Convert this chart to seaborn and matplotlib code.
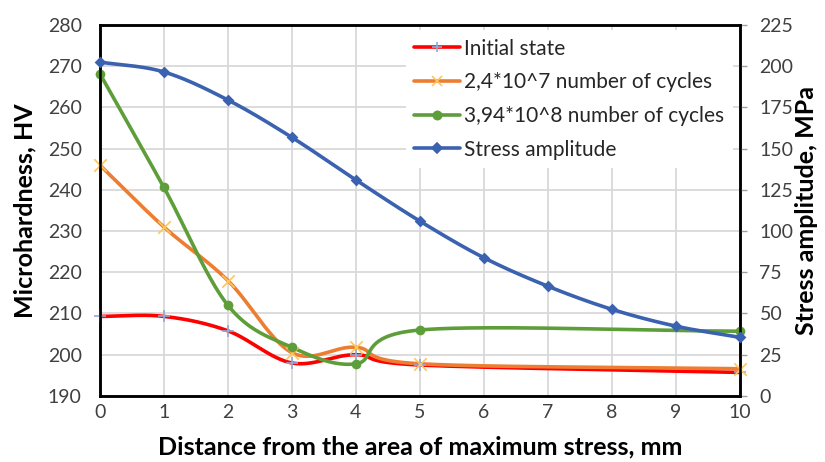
import numpy as np
import pandas as pd
import matplotlib
matplotlib.use("Agg")
import matplotlib.pyplot as plt
import seaborn as sns

# hardness series measured at these distances
distance_hv = [0, 1, 2, 3, 4, 5, 10]
initial_state = [209.3, 209.3, 205.8, 198.0, 200.0, 197.5, 195.7]
cycles_24e7 = [246.0, 231.0, 218.0, 200.5, 201.8, 197.8, 196.6]
cycles_394e8 = [268.2, 240.6, 212.0, 201.8, 197.8, 206.0, 205.7]

# stress amplitude measured at every mm
distance_sa = [0, 1, 2, 3, 4, 5, 6, 7, 8, 9, 10]
stress_amplitude = [202.5, 196.5, 179.5, 156.8, 131.0, 106.0, 83.8, 66.5, 52.5, 42.3, 35.5]

x_ticks = [0, 1, 2, 3, 4, 5, 6, 7, 8, 9, 10]
labels = ["Initial state", "2,4*10^7 number of cycles",
          "3,94*10^8 number of cycles", "Stress amplitude"]

sns.set_theme(style="white")
plt.rcParams['font.family'] = ['Lato', 'DejaVu Sans']


def smooth(x, y, n=40):
    # Excel-like smoothed line (Catmull-Rom via Bezier control points)
    x = np.asarray(x, float); y = np.asarray(y, float)
    P = np.column_stack([x, y])
    P = np.vstack([P[0] - (P[1] - P[0]), P, P[-1] + (P[-1] - P[-2])])
    out = []
    for i in range(1, len(P) - 2):
        p0, p1, p2, p3 = P[i - 1], P[i], P[i + 1], P[i + 2]
        t = np.linspace(0, 1, n, endpoint=False)[:, None]
        c1 = p1 + (p2 - p0) / 6
        c2 = p2 - (p3 - p1) / 6
        seg = (1 - t) ** 3 * p1 + 3 * (1 - t) ** 2 * t * c1 + 3 * (1 - t) * t ** 2 * c2 + t ** 3 * p2
        out.append(seg)
    out.append(P[-2][None, :])
    s = np.vstack(out)
    return s[:, 0], s[:, 1]


fig = plt.figure(figsize=(8.25, 4.62), dpi=100)
ax = fig.add_axes([0.121, 0.143, 0.776, 0.803])
ax2 = ax.twinx()

styles = [
    (distance_hv, initial_state, "#FF0000", "+", "#8FAADC", 9, ax),
    (distance_hv, cycles_24e7, "#ED7D31", "x", "#FFC55A", 9, ax),
    (distance_hv, cycles_394e8, "#5E9E3A", "o", "#5E9E3A", 7, ax),
    (distance_sa, stress_amplitude, "#3A62B0", "D", "#3A62B0", 6, ax2),
]

handles = []
for (xv, vals, lc, mk, mc, ms, a), lab in zip(styles, labels):
    xs, ys = smooth(xv, vals)
    a.plot(xs, ys, color=lc, lw=2.6, zorder=3, solid_capstyle='round')
    df = pd.DataFrame({"x": xv, "y": vals})
    sns.scatterplot(data=df, x="x", y="y", ax=a, marker=mk, s=ms ** 2,
                    color=mc, edgecolor=mc if mk not in "+x" else None,
                    linewidth=1.2 if mk in "+x" else 0, zorder=4, legend=False,
                    clip_on=False)
    h, = a.plot([], [], color=lc, lw=2.6, marker=mk, markersize=ms * 0.85,
                markerfacecolor=mc, markeredgecolor=mc, markeredgewidth=1.2)
    handles.append(h)

ax.set_xlim(0, 10)
ax.set_ylim(190, 280)
ax.set_yticks(np.arange(190, 281, 10))
ax.set_xticks(x_ticks)
ax2.set_ylim(0, 225)
ax2.set_yticks(np.arange(0, 226, 25))

ax.grid(True, color="#D9D9D9", lw=1.3)
ax.set_axisbelow(True)
ax2.grid(False)
for a in (ax, ax2):
    for s in a.spines.values():
        s.set_color("black")
        s.set_linewidth(1.8)

ax.tick_params(axis='y', labelsize=14, colors="#404040", length=0, pad=13)
ax.tick_params(axis='x', labelsize=14, colors="#404040", length=0, pad=6)
ax2.tick_params(axis='y', labelsize=14, colors="#404040", length=5, width=1, direction='out', pad=9)
ax2.tick_params(axis='y', color="#A0A0A0")

ax.set_xlabel("Distance from the area of maximum stress, mm", fontsize=18,
              fontweight='bold', color="black", labelpad=10)
ax.set_ylabel("Microhardness, HV", fontsize=18, fontweight='bold', color="black", labelpad=8)
ax2.set_ylabel("Stress amplitude, MPa", fontsize=18, fontweight='bold', color="black", labelpad=1)
ax2.set_xlabel("")

leg = ax2.legend(handles, labels, loc="upper left", bbox_to_anchor=(0.462, 1.014),
                 frameon=True, fontsize=15, handlelength=2.2, handletextpad=0.2,
                 labelspacing=0.66, borderpad=0.4, framealpha=1)
leg.get_frame().set_edgecolor("white")
leg.get_frame().set_linewidth(0)
for t in leg.get_texts():
    t.set_color("#262626")

fig.savefig("out.png", dpi=100)
